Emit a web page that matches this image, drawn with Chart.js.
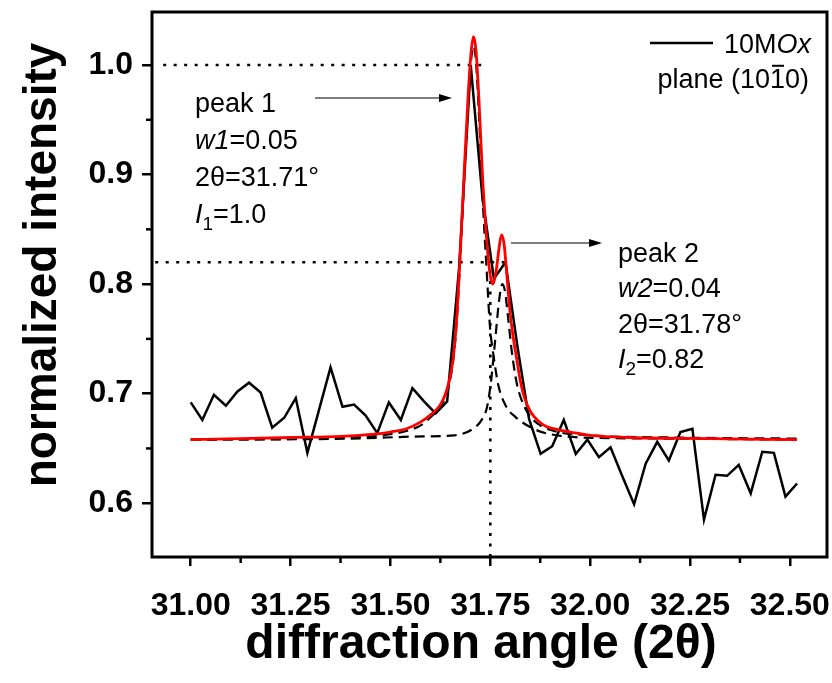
<!DOCTYPE html>
<html>
<head>
<meta charset="utf-8">
<script src="https://cdn.jsdelivr.net/npm/chart.js@4.4.1/dist/chart.umd.min.js"></script>
<style>
  body { margin: 0; background: #fff; }
</style>
</head>
<body>
<canvas id="xrd" width="832" height="683"></canvas>
<script>
// measured scan (10MOx, plane 10-10)
const angle = [
  31.000, 31.029, 31.058, 31.088, 31.117, 31.146, 31.175, 31.204, 31.234, 31.263,
  31.292, 31.321, 31.350, 31.380, 31.409, 31.438, 31.467, 31.496, 31.526, 31.555,
  31.584, 31.613, 31.642, 31.672, 31.701, 31.730, 31.759, 31.788, 31.818, 31.847,
  31.876, 31.905, 31.934, 31.964, 31.993, 32.022, 32.051, 32.080, 32.110, 32.139,
  32.168, 32.197, 32.226, 32.256, 32.285, 32.314, 32.343, 32.372, 32.402, 32.431,
  32.460, 32.489, 32.518
];
const intensity = [
  0.692, 0.676, 0.699, 0.689, 0.702, 0.710, 0.701, 0.669, 0.678, 0.696,
  0.646, 0.685, 0.724, 0.688, 0.690, 0.680, 0.664, 0.692, 0.676, 0.705,
  0.693, 0.682, 0.693, 0.815, 1.000, 0.880, 0.805, 0.820, 0.743, 0.677,
  0.645, 0.652, 0.676, 0.645, 0.658, 0.642, 0.651, 0.625, 0.599, 0.636,
  0.656, 0.639, 0.665, 0.668, 0.585, 0.626, 0.625, 0.635, 0.609, 0.647,
  0.646, 0.606, 0.618
];

// fit (red)
const fitAngle = [
  31.000, 31.250, 31.375, 31.460, 31.500, 31.540, 31.575, 31.605, 31.625, 31.640,
  31.652, 31.660, 31.667, 31.675, 31.685, 31.695, 31.702, 31.708, 31.714, 31.722,
  31.731, 31.740, 31.749, 31.756, 31.765, 31.772, 31.778, 31.784, 31.790, 31.799,
  31.808, 31.816, 31.825, 31.835, 31.850, 31.870, 31.890, 31.920, 31.950, 32.000,
  32.100, 32.300, 32.518
];
const fitSum = [
  0.658, 0.660, 0.661, 0.663, 0.665, 0.668, 0.674, 0.682, 0.690, 0.702,
  0.720, 0.742, 0.775, 0.830, 0.905, 0.975, 1.012, 1.026, 1.014, 0.965,
  0.895, 0.845, 0.810, 0.800, 0.813, 0.833, 0.845, 0.838, 0.815, 0.776,
  0.750, 0.732, 0.712, 0.697, 0.684, 0.675, 0.670, 0.667, 0.665, 0.662,
  0.660, 0.659, 0.658
];

// component peaks (dashed)
const peak1Angle = [
  31.000, 31.300, 31.450, 31.500, 31.550, 31.580, 31.605, 31.625, 31.640, 31.652,
  31.660, 31.667, 31.675, 31.685, 31.695, 31.702, 31.708, 31.714, 31.722, 31.731,
  31.741, 31.749, 31.758, 31.770, 31.790, 31.812, 31.858, 31.900, 31.980, 32.200,
  32.518
];
const peak1Fit = [
  0.658, 0.659, 0.661, 0.663, 0.667, 0.672, 0.680, 0.688, 0.700, 0.718,
  0.740, 0.772, 0.826, 0.900, 0.968, 1.005, 1.017, 1.004, 0.952, 0.877,
  0.812, 0.762, 0.735, 0.708, 0.688, 0.679, 0.668, 0.663, 0.660, 0.659,
  0.658
];
const peak2Angle = [
  31.000, 31.400, 31.580, 31.660, 31.707, 31.730, 31.742, 31.752, 31.762, 31.772,
  31.780, 31.787, 31.795, 31.804, 31.816, 31.833, 31.858, 31.900, 32.000, 32.200,
  32.518
];
const peak2Fit = [
  0.658, 0.659, 0.661, 0.662, 0.668, 0.677, 0.688, 0.712, 0.748, 0.785,
  0.800, 0.793, 0.768, 0.738, 0.710, 0.690, 0.676, 0.667, 0.662, 0.660,
  0.659
];

// dotted guides: peak heights and the split angle
const guideI1 = [[30.931, 1.0], [31.728, 1.0]];
const guideI2 = [[30.911, 0.82], [31.785, 0.82]];
const guideSplit = [[31.75, 0.551], [31.75, 0.82]];

const xTicks = [31.00, 31.25, 31.50, 31.75, 32.00, 32.25, 32.50];
const xMinor = [31.125, 31.375, 31.625, 31.875, 32.125, 32.375];
const yTicks = [0.6, 0.7, 0.8, 0.9, 1.0];
const yMinor = [0.65, 0.75, 0.85, 0.95];

const FONT = '"Liberation Sans", Arial, sans-serif';

const pts = (xs, ys) => xs.map((x, i) => ({ x: x, y: ys[i] }));
const pairs = p => p.map(([x, y]) => ({ x, y }));

// draw a line of text made of styled pieces
function richText(ctx, x, y, parts, size) {
  let cx = x;
  parts.forEach(([t, s]) => {
    const sz = s === 'sub' ? Math.round(size * 0.72) : size;
    ctx.font = (s === 'i' ? 'italic ' : '') + sz + 'px ' + FONT;
    ctx.fillText(t, cx, s === 'sub' ? y + 7 : y);
    const w = ctx.measureText(t).width;
    if (s === 'bar') ctx.fillRect(cx + 2, y - size * 0.86, w - 3, 2);
    cx += w;
  });
  return cx;
}

function arrow(ctx, x1, y, x2) {
  ctx.beginPath();
  ctx.moveTo(x1, y);
  ctx.lineTo(x2 - 10, y);
  ctx.stroke();
  ctx.beginPath();
  ctx.moveTo(x2, y);
  ctx.lineTo(x2 - 13, y - 4);
  ctx.lineTo(x2 - 13, y + 4);
  ctx.closePath();
  ctx.fill();
}

const decorations = {
  id: 'decorations',
  afterDraw(chart) {
    const { ctx, chartArea: a, scales: { x, y } } = chart;
    ctx.save();
    ctx.strokeStyle = '#000';
    ctx.fillStyle = '#000';

    // minor ticks
    ctx.lineWidth = 2.5;
    xMinor.forEach(v => {
      const px = x.getPixelForValue(v);
      ctx.beginPath(); ctx.moveTo(px, a.bottom); ctx.lineTo(px, a.bottom + 6); ctx.stroke();
    });
    yMinor.forEach(v => {
      const py = y.getPixelForValue(v);
      ctx.beginPath(); ctx.moveTo(a.left, py); ctx.lineTo(a.left - 6, py); ctx.stroke();
    });

    // frame
    ctx.lineWidth = 3;
    ctx.strokeRect(a.left, a.top, a.right - a.left, a.bottom - a.top);

    // axis titles
    ctx.textAlign = 'center';
    ctx.textBaseline = 'middle';
    ctx.font = 'bold 48px ' + FONT;
    ctx.fillText('diffraction angle (2\u03B8)', 481, 645);
    ctx.font = 'bold 46px ' + FONT;
    ctx.save();
    ctx.translate(43, 265);
    ctx.rotate(-Math.PI / 2);
    ctx.fillText('normalized intensity', 0, 0);
    ctx.restore();

    // peak annotations
    ctx.textAlign = 'left';
    ctx.textBaseline = 'alphabetic';
    const fs = 27;
    richText(ctx, 195, 112, [['peak 1', '']], fs);
    richText(ctx, 195, 149, [['w1', 'i'], ['=0.05', '']], fs);
    richText(ctx, 195, 186, [['2\u03B8=31.71\u00B0', '']], fs);
    richText(ctx, 195, 223, [['I', 'i'], ['1', 'sub'], ['=1.0', '']], fs);

    richText(ctx, 618, 262, [['peak 2', '']], fs);
    richText(ctx, 618, 297, [['w2', 'i'], ['=0.04', '']], fs);
    richText(ctx, 618, 333, [['2\u03B8=31.78\u00B0', '']], fs);
    richText(ctx, 618, 368, [['I', 'i'], ['2', 'sub'], ['=0.82', '']], fs);

    ctx.lineWidth = 1.2;
    arrow(ctx, 315, 98, 452);
    arrow(ctx, 511, 243, 602);

    // legend
    ctx.lineWidth = 2.4;
    ctx.beginPath(); ctx.moveTo(650, 43); ctx.lineTo(713, 43); ctx.stroke();
    ctx.font = fs + 'px ' + FONT;
    const w10 = ctx.measureText('10M').width;
    ctx.font = 'italic ' + fs + 'px ' + FONT;
    const wOx = ctx.measureText('Ox').width;
    richText(ctx, 811 - w10 - wOx, 53, [['10M', ''], ['Ox', 'i']], fs);
    ctx.font = fs + 'px ' + FONT;
    const wPlane = ctx.measureText('plane (1010)').width;
    richText(ctx, 809 - wPlane, 88, [['plane (10', ''], ['1', 'bar'], ['0)', '']], fs);

    ctx.restore();
  }
};

const solid = (data, color, width, order) => ({
  data, borderColor: color, borderWidth: width, pointRadius: 0, order, fill: false
});

new Chart(document.getElementById('xrd'), {
  type: 'line',
  data: {
    datasets: [
      Object.assign(solid(pts(fitAngle, fitSum), '#ff0000', 2.8, 0), { label: 'fit', cubicInterpolationMode: 'monotone' }),
      Object.assign(solid(pts(angle, intensity), '#000', 2.5, 1), { label: '10MOx', tension: 0 }),
      Object.assign(solid(pts(peak1Angle, peak1Fit), '#000', 2.2, 2), { label: 'peak 1', borderDash: [10, 6], cubicInterpolationMode: 'monotone' }),
      Object.assign(solid(pts(peak2Angle, peak2Fit), '#000', 2.2, 2), { label: 'peak 2', borderDash: [10, 6], cubicInterpolationMode: 'monotone' }),
      Object.assign(solid(pairs(guideI1), '#000', 2.6, 3), { label: 'I1', borderDash: [3, 7.5] }),
      Object.assign(solid(pairs(guideI2), '#000', 2.6, 3), { label: 'I2', borderDash: [3, 7.5] }),
      Object.assign(solid(pairs(guideSplit), '#000', 2.6, 3), { label: 'split', borderDash: [3, 7.5] })
    ]
  },
  options: {
    responsive: false,
    animation: false,
    layout: { padding: { left: 0, right: 5, top: 12, bottom: 0 } },
    plugins: { legend: { display: false }, tooltip: { enabled: false } },
    scales: {
      x: {
        type: 'linear',
        min: 30.903,
        max: 32.593,
        afterBuildTicks: s => { s.ticks = xTicks.map(v => ({ value: v })); },
        afterFit: s => { s.height = 126; s.paddingLeft = 0; s.paddingRight = 0; },
        ticks: {
          color: '#000',
          font: { family: FONT, size: 32, weight: 'bold' },
          padding: 21,
          maxRotation: 0,
          autoSkip: false,
          callback: v => v.toFixed(2)
        },
        grid: { drawOnChartArea: false, tickLength: 9, lineWidth: 2.5, color: '#000' },
        border: { display: false }
      },
      y: {
        type: 'linear',
        min: 0.5509,
        max: 1.0484,
        afterBuildTicks: s => { s.ticks = yTicks.map(v => ({ value: v })); },
        afterFit: s => { s.width = 152; s.paddingTop = 0; s.paddingBottom = 0; },
        ticks: {
          color: '#000',
          font: { family: FONT, size: 32, weight: 'bold' },
          padding: 9,
          autoSkip: false,
          callback: v => v.toFixed(1)
        },
        grid: { drawOnChartArea: false, tickLength: 10, lineWidth: 2.5, color: '#000' },
        border: { display: false }
      }
    }
  },
  plugins: [decorations]
});
</script>
</body>
</html>
